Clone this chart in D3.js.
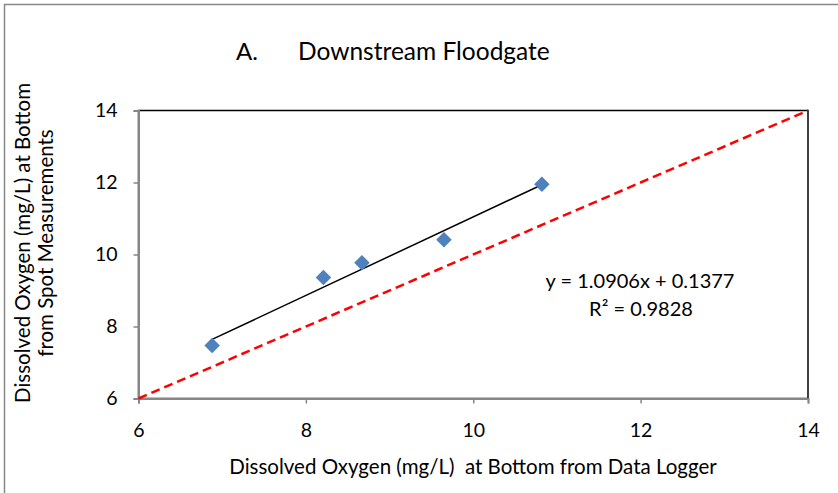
<!DOCTYPE html>
<html>
<head>
<meta charset="utf-8">
<script src="https://cdn.jsdelivr.net/npm/d3@7"></script>
<style>
  body { margin: 0; background: #fff; }
  svg text { font-family: Lato, "Open Sans", sans-serif; fill: #000; }
</style>
</head>
<body>
<svg width="838" height="493"></svg>
<script>
// data
var loggerDO = [6.88, 8.21, 8.67, 9.65, 10.82];   // x : data logger
var spotDO   = [7.47, 9.36, 9.77, 10.41, 11.95];  // y : spot measurements
var xTicks = [6, 8, 10, 12, 14];
var yTicks = [6, 8, 10, 12, 14];
var slope = 1.0906, intercept = 0.1377, r2 = 0.9828;

var svg = d3.select('svg');

// outer chart frame (cropped on right / bottom)
svg.append('rect')
    .attr('x', 4.5).attr('y', 4.5)
    .attr('width', 860).attr('height', 520)
    .attr('fill', 'none')
    .attr('stroke', '#888').attr('stroke-width', 1.5);

var x = d3.scaleLinear().domain([6, 14]).range([138.5, 808]);
var y = d3.scaleLinear().domain([6, 14]).range([398.5, 110.5]);

// plot area border
svg.append('rect')
    .attr('x', x(6)).attr('y', y(14))
    .attr('width', x(14) - x(6)).attr('height', y(6) - y(14))
    .attr('fill', 'none').attr('stroke', '#000').attr('stroke-width', 1.5);

// axes
var xAxis = svg.append('g')
    .attr('transform', 'translate(0,' + y(6) + ')')
    .call(d3.axisBottom(x).tickValues(xTicks).tickSize(5).tickPadding(20));
var yAxis = svg.append('g')
    .attr('transform', 'translate(' + x(6) + ',0)')
    .call(d3.axisLeft(y).tickValues(yTicks).tickSize(5).tickPadding(16));

[xAxis, yAxis].forEach(function(a) {
    a.select('.domain').attr('stroke', '#868686').attr('stroke-width', 2);
    a.selectAll('.tick line').attr('stroke', '#868686').attr('stroke-width', 1.5);
    a.selectAll('.tick text').style('font-size', '19.5px')
        .style('font-family', 'Lato, sans-serif').attr('fill', '#000');
});

// 1:1 line
svg.append('line')
    .attr('x1', x(6)).attr('y1', y(6))
    .attr('x2', x(14)).attr('y2', y(14))
    .attr('stroke', '#ff0000').attr('stroke-width', 2.5)
    .attr('stroke-dasharray', '9,5');

// linear trendline
var xExt = d3.extent(loggerDO);
svg.append('line')
    .attr('x1', x(xExt[0])).attr('y1', y(slope * xExt[0] + intercept))
    .attr('x2', x(xExt[1])).attr('y2', y(slope * xExt[1] + intercept))
    .attr('stroke', '#000').attr('stroke-width', 1.5);

// diamond markers
svg.append('g')
    .selectAll('path')
    .data(loggerDO)
    .enter()
    .append('path')
    .attr('d', d3.symbol().type(d3.symbolSquare).size(120))
    .attr('transform', function(d, i) {
        return 'translate(' + x(d) + ',' + y(spotDO[i]) + ') rotate(45)';
    })
    .attr('fill', '#4F81BD');

// title
svg.append('text').attr('x', 236).attr('y', 60)
    .style('font-size', '24px').text('A.');
svg.append('text').attr('x', 298).attr('y', 60)
    .style('font-size', '24.5px').text('Downstream Floodgate');

// equation
svg.append('text').attr('x', 640).attr('y', 288)
    .attr('text-anchor', 'middle').style('font-size', '20px')
    .text('y = ' + slope.toFixed(4) + 'x + ' + intercept.toFixed(4));
svg.append('text').attr('x', 641).attr('y', 316)
    .attr('text-anchor', 'middle').style('font-size', '20px')
    .text('R\u00B2 = ' + r2.toFixed(4));

// axis titles
svg.append('text').attr('x', 473).attr('y', 474)
    .attr('text-anchor', 'middle').style('font-size', '20.5px')
    .style('white-space', 'pre')
    .text('Dissolved Oxygen (mg/L)  at Bottom from Data Logger');

var yt = svg.append('text')
    .attr('transform', 'translate(0,243) rotate(-90)')
    .attr('text-anchor', 'middle').style('font-size', '20.5px');
yt.append('tspan').attr('x', 0).attr('y', 30).text('Dissolved Oxygen (mg/L) at Bottom');
yt.append('tspan').attr('x', 0).attr('y', 53).text('from Spot Measurements');
</script>
</body>
</html>
